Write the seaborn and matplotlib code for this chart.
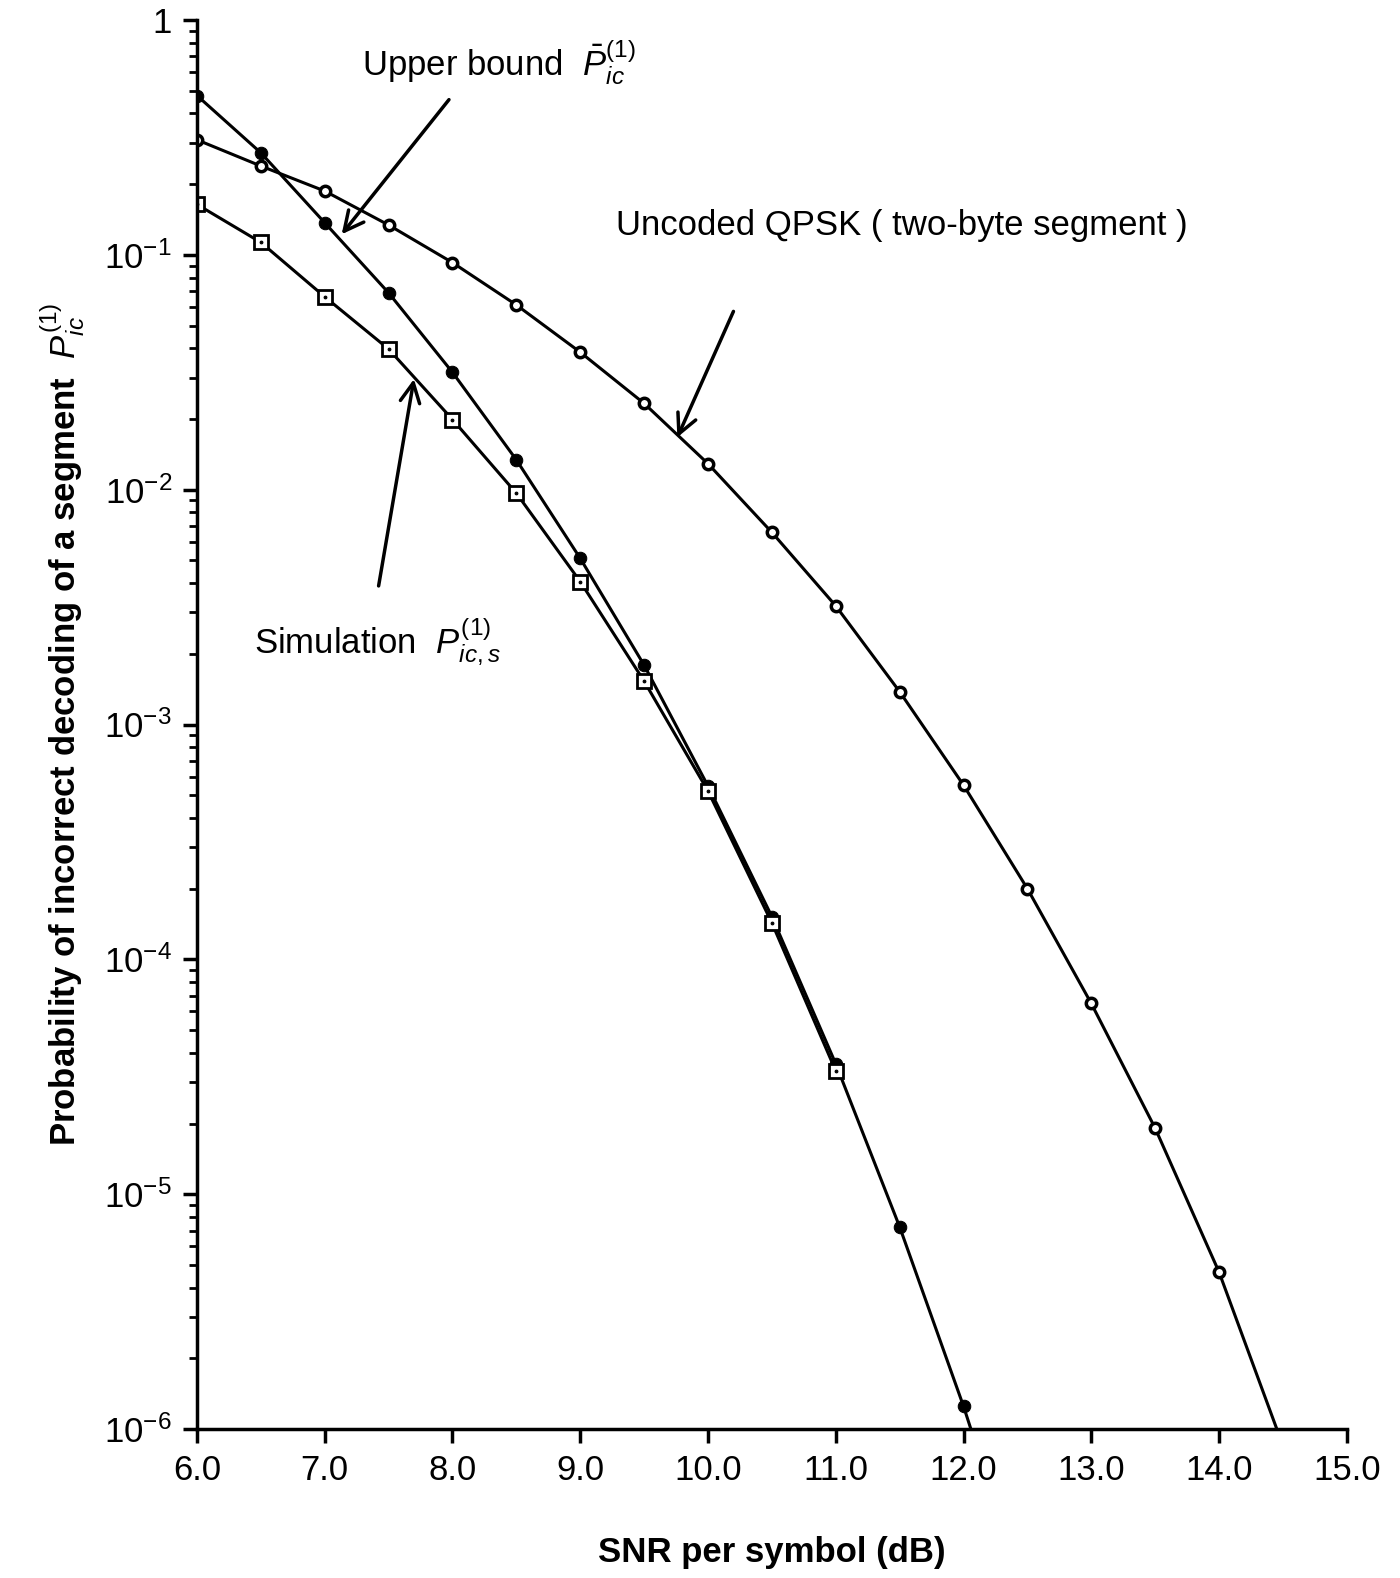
import numpy as np
import pandas as pd
import matplotlib
matplotlib.use("Agg")
import matplotlib.pyplot as plt
from matplotlib.ticker import FixedLocator, LogLocator, NullFormatter
import seaborn as sns

# valores
snr_upper = [6.0, 6.5, 7.0, 7.5, 8.0, 8.5, 9.0, 9.5, 10.0, 10.5, 11.0, 11.5, 12.0, 12.5]
p_upper = [0.477, 0.272, 0.137, 0.0689, 0.0316, 0.0134, 0.0051, 0.00179,
           5.47e-4, 1.52e-4, 3.59e-5, 7.26e-6, 1.25e-6, 1.8e-7]

snr_sim = [6.0, 6.5, 7.0, 7.5, 8.0, 8.5, 9.0, 9.5, 10.0, 10.5, 11.0]
p_sim = [0.164, 0.113, 0.0663, 0.0397, 0.0199, 0.00966, 0.00406, 0.00153,
         5.21e-4, 1.43e-4, 3.35e-5]

snr_qpsk = [6.0, 6.5, 7.0, 7.5, 8.0, 8.5, 9.0, 9.5, 10.0, 10.5, 11.0, 11.5,
            12.0, 12.5, 13.0, 13.5, 14.0, 14.5]
p_qpsk = [0.309, 0.239, 0.187, 0.134, 0.0927, 0.0612, 0.0385, 0.0233, 0.0129,
          0.00658, 0.0032, 0.00138, 5.52e-4, 2.0e-4, 6.49e-5, 1.91e-5, 4.66e-6, 8.5e-7]

x_ticks = [6.0, 7.0, 8.0, 9.0, 10.0, 11.0, 12.0, 13.0, 14.0, 15.0]
y_ticks = [1e-6, 1e-5, 1e-4, 1e-3, 1e-2, 1e-1, 1]
y_labels = ["10$^{-6}$", "10$^{-5}$", "10$^{-4}$", "10$^{-3}$", "10$^{-2}$", "10$^{-1}$", "1"]

sns.set_style("ticks")
plt.rcParams['font.family'] = ['Liberation Sans', 'DejaVu Sans']
plt.rcParams['mathtext.fontset'] = 'custom'
plt.rcParams['mathtext.rm'] = 'Liberation Sans'
plt.rcParams['mathtext.it'] = 'Liberation Sans:italic'
plt.rcParams['mathtext.bf'] = 'Liberation Sans:bold'
for k in ['text.color', 'axes.labelcolor', 'xtick.color', 'ytick.color', 'axes.edgecolor']:
    plt.rcParams[k] = 'black'

fig = plt.figure(figsize=(14, 15.78), dpi=100)
ax = fig.add_axes([0.1407, 0.0944, 0.8213, 0.8929])

sns.lineplot(x=snr_upper, y=p_upper, ax=ax, color="black", lw=2.2,
             marker="o", markersize=9, markerfacecolor="black", markeredgecolor="black")
sns.lineplot(x=snr_sim, y=p_sim, ax=ax, color="black", lw=2.2,
             marker="s", markersize=10, markerfacecolor="white",
             markeredgecolor="black", markeredgewidth=2)
sns.lineplot(x=snr_sim, y=p_sim, ax=ax, color="black", lw=0,
             marker=".", markersize=4, markerfacecolor="black", markeredgecolor="black")
sns.lineplot(x=snr_qpsk, y=p_qpsk, ax=ax, color="black", lw=2.2,
             marker="o", markersize=7.5, markerfacecolor="white",
             markeredgecolor="black", markeredgewidth=2.5)

ax.set_yscale("log")
ax.set_xlim(6.0, 15.0)
ax.set_ylim(1e-6, 1)
ax.xaxis.set_major_locator(FixedLocator(x_ticks))
ax.set_xticklabels([f"{t:.1f}" for t in x_ticks])
ax.yaxis.set_major_locator(FixedLocator(y_ticks))
ax.set_yticklabels(y_labels)
ax.yaxis.set_minor_locator(LogLocator(base=10, subs=np.arange(2, 10)))
ax.yaxis.set_minor_formatter(NullFormatter())

sns.despine(ax=ax)
for s in ["left", "bottom"]:
    ax.spines[s].set_linewidth(2.5)
ax.tick_params(axis="both", which="major", direction="out", length=10, width=2.5,
               labelsize=25, pad=8)
ax.tick_params(axis="y", which="minor", direction="out", length=6, width=2)

ax.set_xlabel("SNR per symbol (dB)", fontsize=25, fontweight="bold", labelpad=35)
ax.set_ylabel(r"Probability of incorrect decoding of a segment  $P_{ic}^{(1)}$",
              fontsize=25, fontweight="bold", labelpad=12)

# anotações
ax.text(7.29, 0.66, r"Upper bound  $\bar{P}_{ic}^{(1)}$", fontsize=25, ha="left", va="center")
ax.annotate("", xy=(7.119, 0.1198), xytext=(7.986, 0.468),
            arrowprops=dict(arrowstyle="->", lw=2.5, color="black", mutation_scale=35))

ax.text(9.278, 0.1336, "Uncoded QPSK ( two-byte segment )", fontsize=25, ha="left", va="center")
ax.annotate("", xy=(9.751, 0.0163), xytext=(10.208, 0.0589),
            arrowprops=dict(arrowstyle="->", lw=2.5, color="black", mutation_scale=35))

ax.text(6.449, 0.00224, r"Simulation  $P_{ic,s}^{(1)}$", fontsize=25, ha="left", va="center")
ax.annotate("", xy=(7.702, 0.0304), xytext=(7.418, 0.00379),
            arrowprops=dict(arrowstyle="->", lw=2.5, color="black", mutation_scale=35))

fig.savefig("out.png", dpi=100)
